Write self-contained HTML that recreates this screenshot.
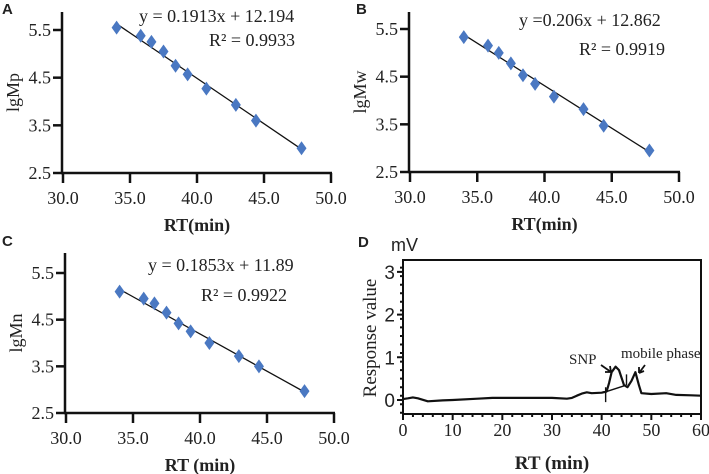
<!DOCTYPE html>
<html><head><meta charset="utf-8"><style>
body{margin:0;background:#fff}
svg{display:block}
text{fill:#222}
</style></head><body>
<svg id="c" width="709" height="474" viewBox="0 0 709 474"></svg>
<script>
const rtA=[34,35.8,36.6,37.5,38.4,39.3,40.7,42.9,44.4,47.8];
const lgMp=[5.55,5.38,5.25,5.05,4.75,4.57,4.27,3.93,3.6,3.02];
const lgMw=[5.33,5.15,5.0,4.78,4.53,4.35,4.08,3.82,3.47,2.95];
const lgMn=[5.1,4.95,4.85,4.65,4.42,4.25,4.0,3.72,3.5,2.97];
const fitA=[[34,5.63],[47.8,3.0]];
const fitB=[[34,5.38],[47.8,2.92]];
const fitC=[[34,5.15],[47.8,2.95]];
const xTicks=[30,35,40,45,50];
const yTicks=[2.5,3.5,4.5,5.5];
const dRT=[0,1,2,3,5,8,10,15,18,20,25,30,33,34,35,36,37,38,40,41,41.5,42,42.8,43.5,44.5,45.2,46,46.8,47.5,48,50,53,55,58,60];
const dResp=[0.02,0.04,0.06,0.04,-0.03,-0.01,0.0,0.03,0.05,0.05,0.05,0.05,0.03,0.05,0.1,0.15,0.18,0.16,0.17,0.2,0.4,0.65,0.78,0.7,0.35,0.3,0.45,0.65,0.35,0.16,0.14,0.16,0.12,0.11,0.1];
const dXTicks=[0,10,20,30,40,50,60];
const dYTicks=[0,1,2,3];
const svg=document.getElementById('c');const NS='http://www.w3.org/2000/svg';
const SERIF='font-family:"Liberation Serif",serif;';
const SANS='font-family:"Liberation Sans",sans-serif;';
function mk(tag,attrs,parent,txt){const e=document.createElementNS(NS,tag);for(const k in attrs)e.setAttribute(k,attrs[k]);if(txt!==undefined)e.textContent=txt;(parent||svg).appendChild(e);return e;}
function panel(o){
 const g=mk('g',{});
 
 
 const sx=v=>o.x0+(v-30)/20*(o.x1-o.x0);
 const sy=v=>o.y0+(v-2.5)/3*(o.y1-o.y0);
 let l=mk('text',{x:o.lx,y:o.ly,style:SANS+'font-size:15px;font-weight:bold'},g,o.id);
 
 mk('line',{x1:o.x0-1,y1:o.top,x2:o.x0-1,y2:o.y0+1,stroke:'#111','stroke-width':2.5},g);
 mk('line',{x1:o.x0-2,y1:o.y0,x2:o.x1+1,y2:o.y0,stroke:'#111','stroke-width':2.5},g);
 xTicks.forEach(v=>{mk('line',{x1:sx(v),y1:o.y0,x2:sx(v),y2:o.y0+10,stroke:'#111','stroke-width':2.5},g);
  const t=mk('text',{x:sx(v),y:o.y0+31,style:SERIF+'font-size:18px','text-anchor':'middle'},g,v.toFixed(1));});
 yTicks.forEach(v=>{mk('line',{x1:o.x0-10,y1:sy(v),x2:o.x0,y2:sy(v),stroke:'#111','stroke-width':2.5},g);
  const t=mk('text',{x:o.x0-12,y:sy(v)+6,style:SERIF+'font-size:18px','text-anchor':'end'},g,v.toFixed(1));});
 const f=o.fit;mk('line',{x1:sx(f[0][0]),y1:sy(f[0][1]),x2:sx(f[1][0]),y2:sy(f[1][1]),stroke:'#111','stroke-width':1.3},g);
 o.ys.forEach((v,i)=>{const cx=sx(rtA[i]),cy=sy(v);
  const p=mk('polygon',{points:`${cx},${cy-7} ${cx+5},${cy} ${cx},${cy+7} ${cx-5},${cy}`,fill:'#4a78c2'},g);
  });
 let t=mk('text',{x:o.ex,y:o.ey,style:SERIF+'font-size:18px'},g,o.eq);
 t=mk('text',{x:o.rx,y:o.ry,style:SERIF+'font-size:18px'},g,o.r2);
 t=mk('text',{x:(o.x0+o.x1)/2,y:o.y0+58,style:SERIF+'font-size:18px;font-weight:bold','text-anchor':'middle'},g,o.xt);
 const yc=(o.y0+o.top)/2;
 t=mk('text',{x:0,y:0,style:SERIF+'font-size:18px','text-anchor':'middle',transform:`translate(${o.x0-44},${yc}) rotate(-90)`},g,o.yt);
}
panel({id:'A',lx:2,ly:14,x0:63,x1:331,y0:173,y1:30,top:12,ys:lgMp,fit:fitA,eq:'y = 0.1913x + 12.194',ex:139,ey:22,r2:'R² = 0.9933',rx:209,ry:46,xt:'RT(min)',yt:'lgMp'});
panel({id:'B',lx:356,ly:14,x0:410,x1:679,y0:172,y1:29,top:12,ys:lgMw,fit:fitB,eq:'y =0.206x + 12.862',ex:519,ey:26,r2:'R² = 0.9919',rx:579,ry:55,xt:'RT(min)',yt:'lgMw'});
panel({id:'C',lx:2,ly:246,x0:66,x1:334,y0:413,y1:273,top:253,ys:lgMn,fit:fitC,eq:'y = 0.1853x + 11.89',ex:148,ey:271,r2:'R² = 0.9922',rx:201,ry:301,xt:'RT (min)',yt:'lgMn'});
// Panel D
(function(){
 const g=mk('g',{});
 const X0=403,X1=701,Y0=400,U=42.7,TOP=260,BOT=414;
 const sx=v=>X0+v/60*(X1-X0), sy=v=>Y0-v*U;
 let t=mk('text',{x:358,y:247,style:SANS+'font-size:15px;font-weight:bold'},g,'D');
 t=mk('text',{x:391,y:251,style:SANS+'font-size:18px'},g,'mV');
 let tk=`M${X0},${TOP}H${X1}V${BOT}H${X0}Z`;
 for(let v=0;v<=60;v+=2){tk+=`M${sx(v)},${BOT}v${v%10?3:6}`;}
 for(let i=0;i<18;i++){const v=-0.3+i*0.2;tk+=`M${X0},${sy(v)}h-3`;}
 dYTicks.forEach(v=>{tk+=`M${X0},${sy(v)}h-6`;});
 const tp=mk('path',{d:tk,fill:'none',stroke:'#111','stroke-width':2},g);
 
 dXTicks.forEach(v=>{const e=mk('text',{x:sx(v),y:BOT+22,style:SERIF+'font-size:18px','text-anchor':'middle'},g,v);});
 dYTicks.forEach(v=>{const e=mk('text',{x:X0-8,y:sy(v)+7,style:SANS+'font-size:19px','text-anchor':'end'},g,v);});
 const d=dRT.map((x,i)=>(i?'L':'M')+sx(x).toFixed(1)+','+sy(dResp[i]).toFixed(1)).join(' ');
 const p=mk('path',{d:d,fill:'none',stroke:'#111','stroke-width':2.2,'stroke-linejoin':'round'},g);
 const bl=mk('path',{d:`M${sx(40.5)},${sy(0.18)}L${sx(45)},${sy(0.35)}M${sx(40.8)},${sy(-0.05)}V${sy(0.3)}M${sx(45)},${sy(0.35)}V${sy(0.6)}`,fill:'none',stroke:'#111','stroke-width':1.4},g);
 
 t=mk('text',{x:569,y:364,style:SERIF+'font-size:15px'},g,'SNP');
 t=mk('text',{x:621,y:358,style:SERIF+'font-size:15px'},g,'mobile phase');
 mk('path',{d:'M601,365 L611,372 M611,372 l-6,0 M611,372 l-1,-6',stroke:'#111','stroke-width':1.8,fill:'none'},g);
 mk('path',{d:'M645,365 L639,373 M639,373 l0,-6 M639,373 l5,-2',stroke:'#111','stroke-width':1.8,fill:'none'},g);
 t=mk('text',{x:552,y:469,style:SERIF+'font-size:19px;font-weight:bold','text-anchor':'middle'},g,'RT (min)');
 t=mk('text',{x:0,y:0,style:SERIF+'font-size:19px','text-anchor':'middle',transform:'translate(376,338) rotate(-90)'},g,'Response value');
})();
</script>
</body></html>
